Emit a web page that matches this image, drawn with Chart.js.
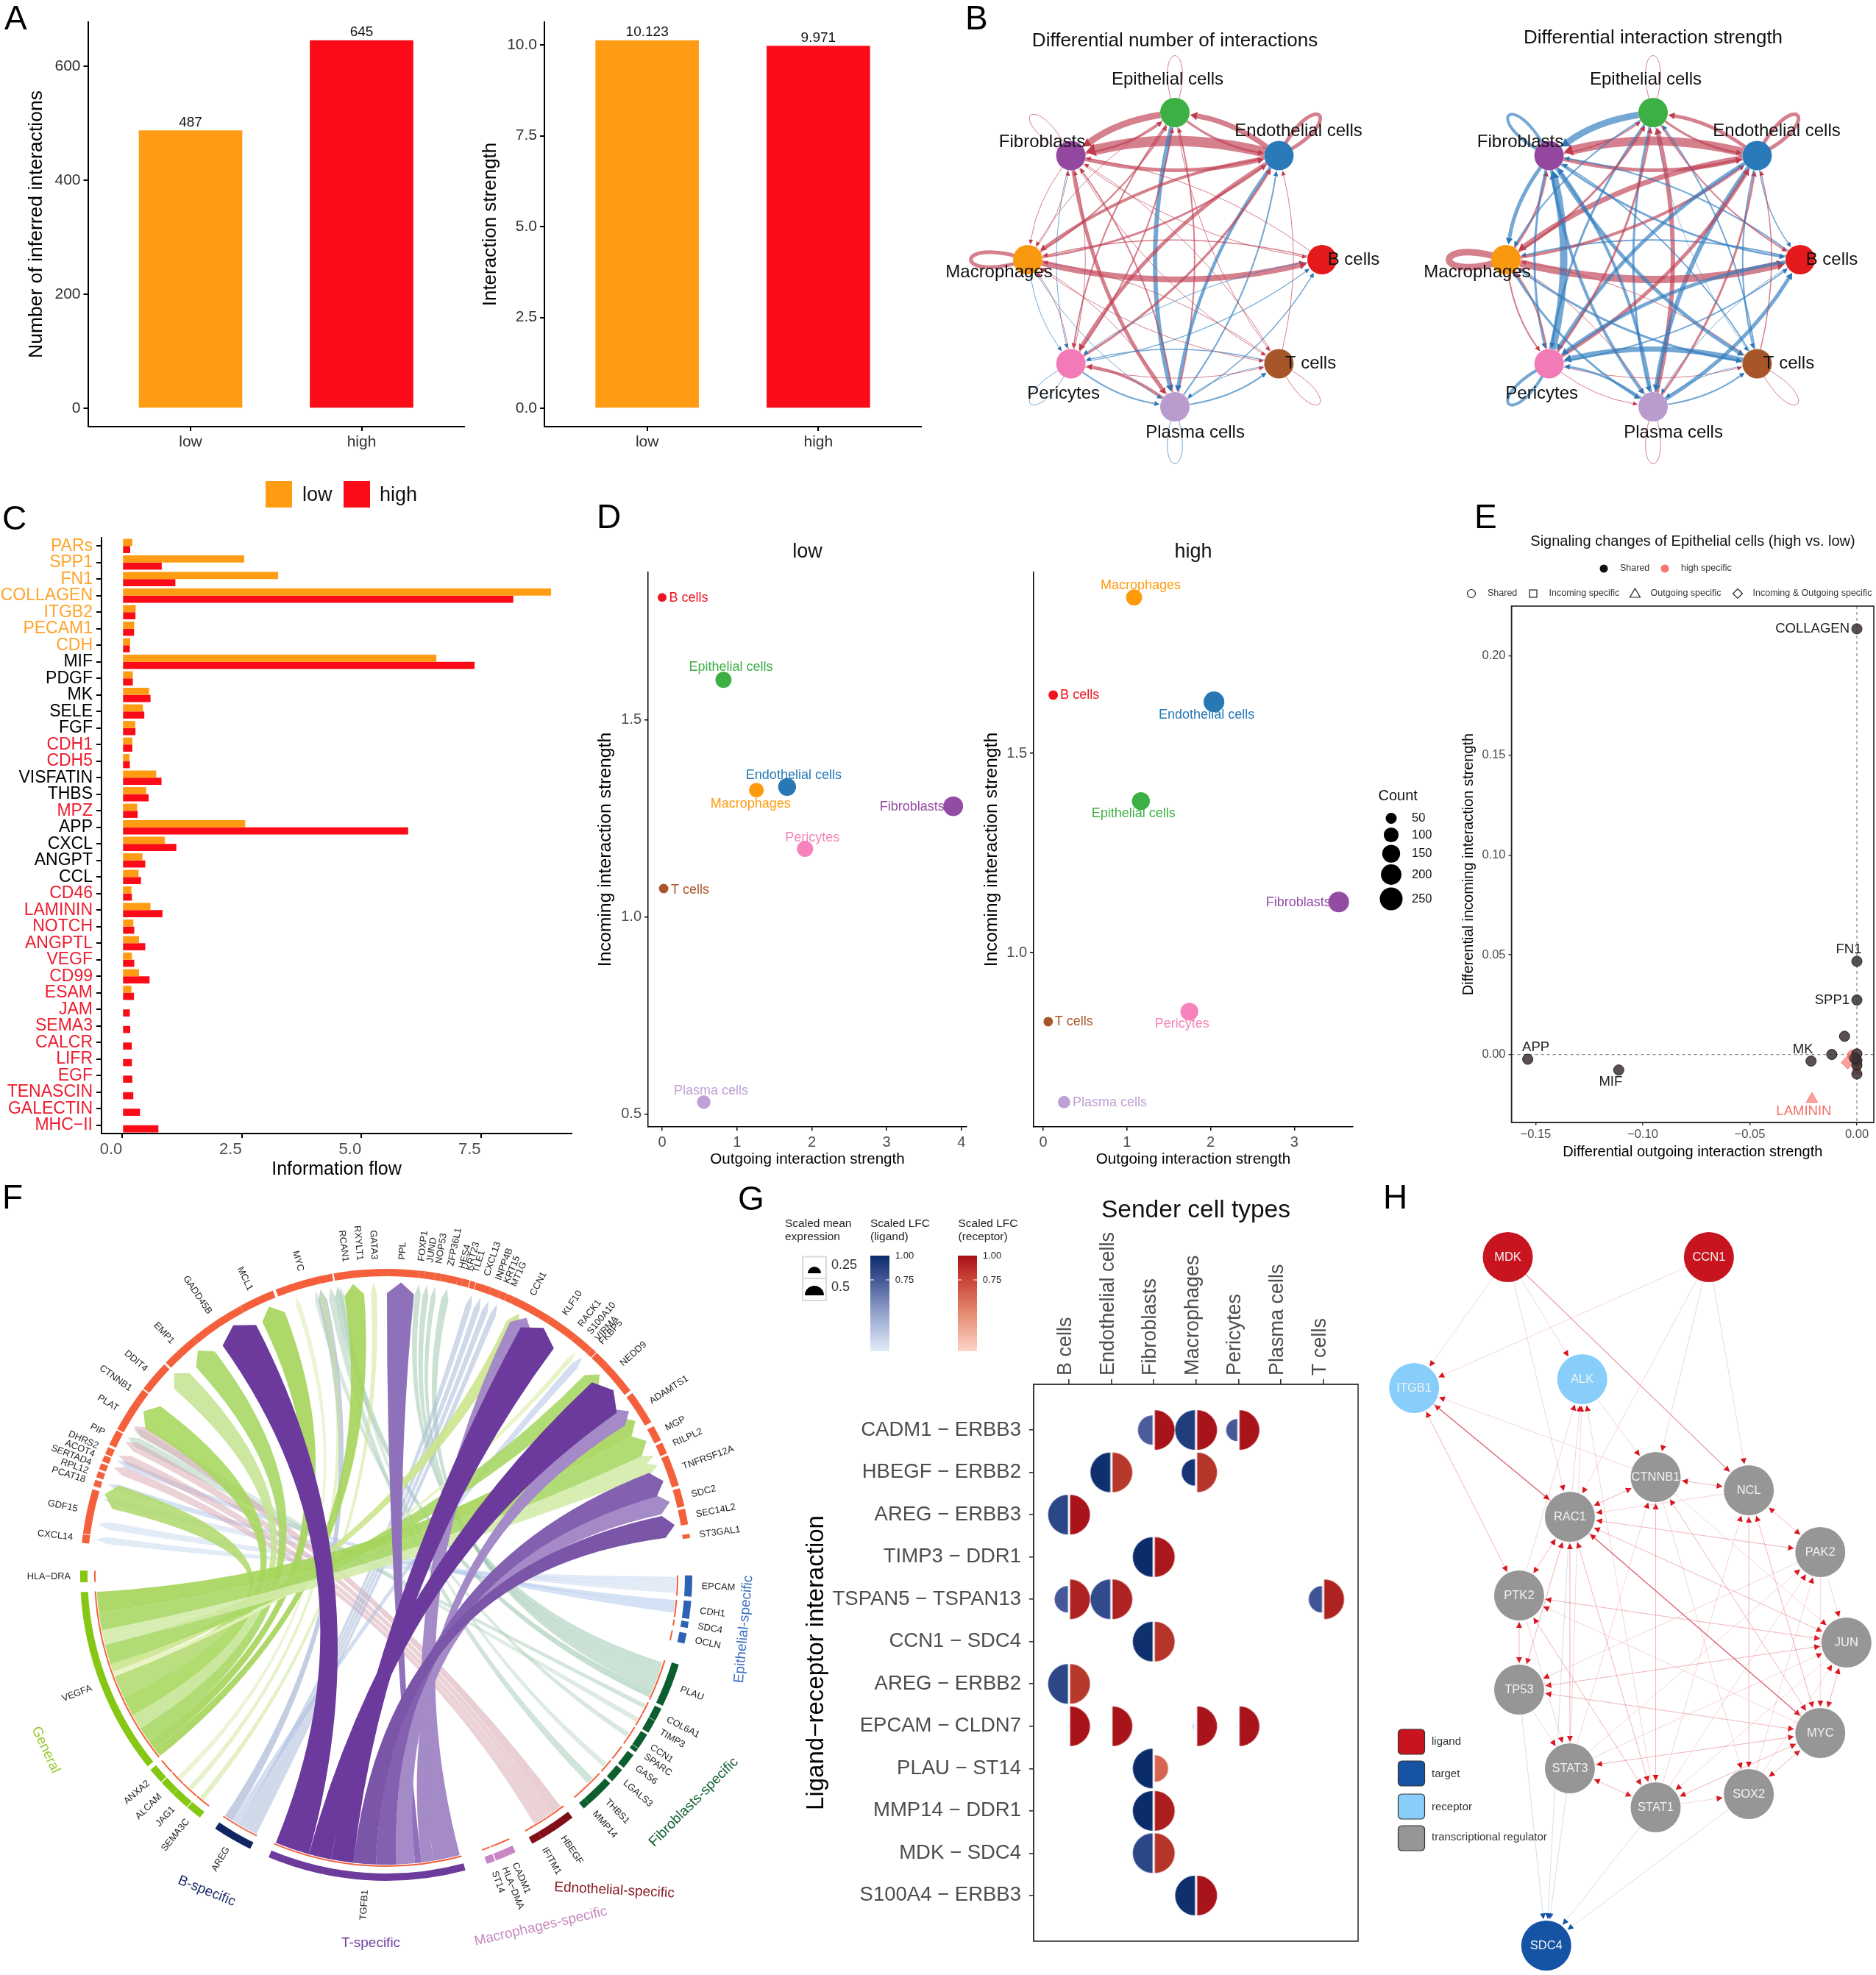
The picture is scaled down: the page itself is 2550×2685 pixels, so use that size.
<!DOCTYPE html>
<html><head><meta charset="utf-8">
<style>html,body{margin:0;padding:0;background:#fff;width:2550px;height:2685px;overflow:hidden;position:relative}canvas{position:absolute}</style>
<script src="https://cdn.jsdelivr.net/npm/chart.js@4/dist/chart.umd.js"></script>
</head><body>
<script>
// ---------- DATA ----------
const groups=['low','high'];
const interactionCount=[487,645];
const interactionStrength=[10.123,9.971];

const pathways=['PARs','SPP1','FN1','COLLAGEN','ITGB2','PECAM1','CDH','MIF','PDGF','MK','SELE','FGF','CDH1','CDH5','VISFATIN','THBS','MPZ','APP','CXCL','ANGPT','CCL','CD46','LAMININ','NOTCH','ANGPTL','VEGF','CD99','ESAM','JAM','SEMA3','CALCR','LIFR','EGF','TENASCIN','GALECTIN','MHC\u2212II'];
const flowLow=[.21,2.55,3.26,8.97,.28,.25,.165,6.57,.22,.56,.43,.27,.21,.15,.71,.5,.31,2.57,.89,.42,.34,.19,.59,.23,.35,.2,.35,.19,0,0,0,0,0,0,0,0];
const flowHigh=[.165,.825,1.11,8.18,.275,.245,.157,7.37,.22,.59,.46,.275,.21,.157,.82,.55,.32,5.98,1.13,.48,.39,.2,.84,.25,.48,.25,.57,.245,.157,.165,.197,.2,.21,.23,.37,.755];
const pathwayColor=['o','o','o','o','o','o','o','k','k','k','k','k','r','r','k','k','r','k','k','k','k','r','r','r','r','r','r','r','r','r','r','r','r','r','r','r'];

const bNames=['Epithelial cells','Endothelial cells','B cells','T cells','Plasma cells','Pericytes','Macrophages','Fibroblasts'];
const bX=[0,.707,1,.707,0,-.707,-1,-.707];
const bY=[1,.707,0,-.707,-1,-.707,0,.707];
const bColors=['#3cb044','#2a79b9','#e41a1c','#a65628','#b99bcd','#f27ab7','#f8990f','#93479e'];
const edgesNumber=[[1,7,14,'r'],[7,1,5,'r'],[0,7,9,'r'],[7,0,3,'r'],[1,0,7,'r'],[0,1,3,'r'],[0,4,6,'b'],[4,0,2,'r'],[1,4,4.5,'b'],[4,1,2,'b'],[6,2,8,'r'],[2,6,1.5,'r'],[1,6,4,'r'],[6,1,3,'r'],[1,5,5,'r'],[5,1,3,'r'],[7,4,5,'r'],[4,7,2,'r'],[4,5,4,'r'],[5,4,2,'b'],[4,3,2,'b'],[3,4,1,'b'],[3,5,1.5,'b'],[5,3,1,'r'],[5,0,2,'r'],[0,5,2,'r'],[6,0,2,'r'],[0,6,1,'r'],[7,5,1,'b'],[5,7,1,'r'],[7,6,1,'r'],[6,7,1,'r'],[6,5,1,'b'],[5,6,1,'r'],[7,2,1,'r'],[2,7,1,'r'],[7,3,1,'r'],[3,7,1,'r'],[6,3,1,'r'],[3,6,1,'r'],[6,4,1,'b'],[4,6,1,'r'],[5,2,1.2,'b'],[2,5,1,'b'],[4,2,1.5,'b'],[3,1,1,'r'],[0,3,1,'r']];
const edgesStrength=[[1,7,12,'r'],[7,1,5,'r'],[0,7,9,'b'],[7,0,2,'r'],[1,0,5,'r'],[0,1,3,'r'],[0,4,3,'b'],[4,0,6,'r'],[1,4,6,'b'],[4,1,3,'r'],[6,2,10,'r'],[2,6,2,'b'],[1,6,7,'r'],[6,1,4,'r'],[7,6,5,'b'],[6,7,3,'r'],[5,7,10,'b'],[7,5,3,'b'],[7,4,4,'b'],[4,7,4,'b'],[7,3,5,'b'],[3,7,2,'b'],[7,2,3,'b'],[2,7,2,'b'],[5,3,1,'r'],[3,5,7,'b'],[1,5,5,'b'],[5,1,5,'r'],[5,0,3,'r'],[0,5,3,'b'],[5,2,2,'b'],[2,5,5,'b'],[4,2,5,'b'],[2,4,1,'b'],[4,3,2,'b'],[3,4,1,'b'],[5,4,1,'r'],[4,5,3,'b'],[6,5,2,'r'],[5,6,2,'r'],[6,4,3,'b'],[4,6,1,'r'],[6,3,3,'b'],[3,6,1,'r'],[0,6,2,'b'],[6,0,3,'r'],[0,3,.7,'b'],[3,0,2,'b'],[0,2,2,'r'],[1,2,1.5,'b'],[1,3,2,'b'],[3,1,1.5,'r']];
const loopsNumber=[[0,1,'r'],[1,5,'r'],[6,5,'r'],[7,1,'r'],[5,1,'b'],[3,1,'r'],[4,1,'b']];
const loopsStrength=[[0,1,'r'],[1,5,'r'],[6,9,'r'],[7,4,'b'],[5,4,'b'],[3,1,'r'],[4,1,'r']];

const dCells=['B cells','Epithelial cells','Endothelial cells','Macrophages','Fibroblasts','Pericytes','T cells','Plasma cells'];
const dColors=['#ee1520','#3cb044','#2778b5','#ff9a0d','#944ba4','#f683bb','#a65628','#bfa0d6'];
const lowOutgoing=[0,.82,1.67,1.26,3.89,1.91,.02,.556];
const lowIncoming=[1.811,1.602,1.33,1.322,1.281,1.173,1.072,.53];
const lowCount=[28,120,150,98,185,120,35,80];
const highOutgoing=[.12,1.167,2.04,1.086,3.53,1.746,.06,.25];
const highIncoming=[1.646,1.38,1.629,1.891,1.127,.852,.827,.625];
const highCount=[35,150,205,120,205,150,35,65];
const countLegend=[50,100,150,200,250];

const eNamedX=[0,0,0,-.1537,-.1112,-.0214];
const eNamedY=[.2134,.0467,.0273,-.0024,-.0078,-.0033];
const eNamed=['COLLAGEN','FN1','SPP1','APP','MIF','MK'];
const eOtherX=[-.00575,-.0117,0,0,0,-.001,0];
const eOtherY=[.0091,0,.0003,-.003,-.0055,-.002,-.0098];
const eRedCircleX=[-.002,-.0015,0];
const eRedCircleY=[-.0003,-.001,-.003];
const eRedSquareX=[0,0];
const eRedSquareY=[-.006,-.008];
const eRedDiamondX=[-.0043];
const eRedDiamondY=[-.004];
const eRedTriangleX=[-.021];
const eRedTriangleY=[-.0224];

const fGenes=['CXCL14','GDF15','PCAT18','RPL12','SERTAD4','ACOT4','DHRS2','PIP','PLAT','CTNNB1','DDIT4','EMP1','GADD45B','MCL1','MYC','RCAN1','RXYLT1','GATA3','PPL','FOXP1','JUND','NOP53','ZFP36L1','HES4','KRT23','TLE1','CXCL13','INPP4B','KRT15','MT1G','CCN1','KLF10','RACK1','S100A10','VIRMA','FKBP5','NEDD9','ADAMTS1','MGP','RILPL2','TNFRSF12A','SDC2','SEC14L2','ST3GAL1','EPCAM','CDH1','SDC4','OCLN','PLAU','COL6A1','TIMP3','CCN1','SPARC','GAS6','LGALS3','THBS1','MMP14','HBEGF','IFITM1','CADM1','HLA\u2212DMA','ST14','TGFB1','AREG','SEMA3C','JAG1','ALCAM','ANXA2','VEGFA','HLA\u2212DRA'];
const fCenter=[-83.2,-78,-72.5,-70.8,-69.2,-67.6,-66,-63.3,-58.3,-54,-49.5,-42.6,-34,-25.5,-15.7,-7.4,-4.8,-2.2,2.9,6.4,8,9.6,11.8,13.9,15.2,16.5,18.6,20.8,22.4,23.8,27.6,34.4,37.9,40,41.8,42.8,48.2,56.8,62.4,65.5,70,75.3,79,82.7,92.1,96.6,99.4,102,111.2,117.2,119.8,123,125,127.6,131,135.7,138.8,146,150,156,158,160,183.8,210.2,219,222.4,225.7,228.9,249,269.7];
const fWidth=[1.6,8.5,1.2,1.2,1.2,1.2,1.4,3,6.5,2.5,6,7,11,7.5,11,5,1,5.5,6.5,1.8,2.5,1.5,3.5,1.3,1.3,1,3,2.2,1.6,1.5,10,8,1,3.4,1,1,9.5,6.5,3,2.2,6,3.5,3,.8,4,3.4,1.2,2,8.3,2.5,2.5,3,.8,3,2.8,5.5,2,7,3,2,2,1.6,37.6,7.6,3,3.5,3,3,35.5,2.2];
const fGroup=[0,0,0,0,0,0,0,0,0,0,0,0,0,0,0,0,0,0,0,0,0,0,0,0,0,0,0,0,0,0,0,0,0,0,0,0,0,0,0,0,0,0,0,0,1,1,1,1,2,2,2,2,2,2,2,2,2,3,3,4,4,4,5,6,7,7,7,7,7,7];
const fGroupColors=['#f4603c','#2e62b4','#0d5e2e','#7f1017','#c884c4','#6c3b9c','#0f2460','#86c714'];
// source start, source end, target angle, target width, colour
const fRibbonsPale=[
[90.4,91.4,-83,1.4,'rgba(200,216,240,.55)'],[91.4,92.4,-80,1.6,'rgba(200,216,240,.5)'],[92.4,93.6,-75,1.6,'rgba(200,216,240,.5)'],[95,96,-72,1.3,'rgba(185,205,236,.6)'],[96,97.5,-67,1.3,'rgba(185,205,236,.6)'],
[107.6,109.4,6.4,1.2,'rgba(150,195,170,.5)'],[109.4,110.8,8,1.2,'rgba(150,195,170,.5)'],[110.8,112,9.6,1,'rgba(150,195,170,.5)'],[112,113.5,12,1.5,'rgba(150,195,170,.5)'],[113.5,115,-9.6,1.6,'rgba(150,195,170,.55)'],[116.5,117.4,-62,2,'rgba(170,205,185,.5)'],
[119.5,120.5,-60,1.5,'rgba(170,205,185,.4)'],[123,124,-14,1.2,'rgba(170,205,185,.45)'],[130.5,131.5,-9,1.2,'rgba(170,205,185,.4)'],[134.5,136,-11,1.5,'rgba(170,205,185,.55)'],
[143,145,-59.5,2.2,'rgba(215,165,175,.55)'],[145,146.5,-63,2,'rgba(215,165,175,.5)'],[146.5,148,-66,2,'rgba(215,165,175,.5)'],[148,149.3,-68.5,1.8,'rgba(215,165,175,.5)'],
[206.6,207.6,22.3,1.2,'rgba(170,185,215,.55)'],[207.6,208.6,20.5,1.2,'rgba(170,185,215,.55)'],[208.6,209.6,18.8,1.2,'rgba(170,185,215,.55)'],[209.6,210.6,17,1.2,'rgba(170,185,215,.55)'],[210.6,212,42,1.5,'rgba(170,190,225,.5)'],[212,213.8,-13,1.8,'rgba(170,185,215,.7)'],
[219,220,-2.5,1.2,'rgba(205,230,150,.55)'],[222,223,-13,1.3,'rgba(205,230,150,.5)'],[225,226,-18,1,'rgba(205,230,150,.4)']];
const fRibbonsGreen=[
[233,235,-23.6,5,'rgba(165,213,90,.9)'],[231.3,233,-6.5,4,'rgba(165,213,90,.9)'],[235,238,-40,5,'rgba(169,216,102,.9)'],[238,241,-46.5,4.5,'rgba(197,228,150,.9)'],[241,245,-56,5.5,'rgba(168,216,96,.9)'],[245,249.5,-74,5,'rgba(179,218,114,.9)'],
[249.5,250.5,40.4,1,'rgba(230,243,192,.9)'],[250.5,252,26.9,3,'rgba(203,230,140,.9)'],[252,256,46.8,4,'rgba(169,216,102,.9)'],[256,257.5,68,2.5,'rgba(211,235,170,.9)'],[257.5,259,66,2,'rgba(211,235,170,.9)'],[259,262.5,62.8,4.5,'rgba(169,216,102,.9)'],[262.5,266.6,58.3,4.5,'rgba(165,213,90,.9)']];
const fRibbonsPurple=[
[165.3,170.6,28.6,5,'#a58ac8'],[170.6,173,56,4,'#a58ac8'],[173,174.3,2.9,5.5,'#8f70ba'],[174.3,178,75.6,4,'#a58ac8'],[178,182,71.3,5,'#8360b0'],[182,186.5,80.2,4.5,'#7a55a8'],[186.5,191,32.5,8,'#6b3a9c'],[191,195.5,50.9,8,'#6b3a9c'],[195.5,202.4,-31.5,8,'#6b3a9c']];

const gLigands=['CADM1 \u2212 ERBB3','HBEGF \u2212 ERBB2','AREG \u2212 ERBB3','TIMP3 \u2212 DDR1','TSPAN5 \u2212 TSPAN13','CCN1 \u2212 SDC4','AREG \u2212 ERBB2','EPCAM \u2212 CLDN7','PLAU \u2212 ST14','MMP14 \u2212 DDR1','MDK \u2212 SDC4','S100A4 \u2212 ERBB3'];
const gSenders=['B cells','Endothelial cells','Fibroblasts','Macrophages','Pericytes','Plasma cells','T cells'];
const gRow=[0,0,0,1,1,2,3,4,4,4,5,6,7,7,7,7,8,9,10,11];
const gCol=[2,3,4,1,3,0,2,0,1,6,2,0,0,1,3,4,2,2,2,3];
const gLigSize=[.74,1,.56,1,.67,1,1,.67,1,.67,1,1,.08,0,.15,.08,1,1,1,1];
const gLigVal=[.7,.9,.72,.98,.95,.85,1,.72,.82,.75,.98,.85,.3,.3,.3,.3,1,1,.85,.98];
const gRecSize=[1,1,1,1,1,1,1,1,1,1,1,1,1,1,1,1,.67,1,1,1];
const gRecVal=[.97,.97,.97,.8,.82,.97,.95,.9,.9,.9,.82,.8,.97,.97,.97,.97,.65,.93,.82,.97];

const hNames=['MDK','CCN1','ITGB1','ALK','CTNNB1','NCL','RAC1','PAK2','PTK2','JUN','TP53','MYC','STAT3','SOX2','STAT1','SDC4'];
const hX=[25.3,66.1,6.3,40.4,55.3,74.2,37.9,88.7,27.6,94,27.6,88.7,37.9,74.2,55.3,33.1];
const hY=[97.1,97.1,79.3,80.5,67.2,65.4,61.8,57,51.1,44.7,38.3,32.4,27.6,24.1,22.3,3.5];
const hKind=['ligand','ligand','receptor','receptor','tf','tf','tf','tf','tf','tf','tf','tf','tf','tf','tf','target'];
const hEdges=['MDK>ITGB1','MDK>ALK','MDK>RAC1','CCN1>ITGB1','CCN1>RAC1','CCN1>CTNNB1','CCN1>NCL','PTK2>ITGB1','ITGB1>PTK2','CTNNB1>ITGB1','RAC1>ALK','PTK2>ALK','STAT1>ALK','STAT3>ALK','ALK>CTNNB1','RAC1>CTNNB1','CTNNB1>RAC1','CTNNB1>NCL','NCL>CTNNB1','NCL>RAC1','RAC1>PAK2','PAK2>RAC1','RAC1>JUN','JUN>RAC1','RAC1>STAT1','STAT1>RAC1','RAC1>STAT3','STAT3>RAC1','RAC1>PTK2','PTK2>RAC1','RAC1>TP53','TP53>RAC1','PTK2>TP53','TP53>PTK2','PTK2>STAT3','PTK2>JUN','JUN>PTK2','MYC>PTK2','PTK2>STAT1','STAT1>PTK2','TP53>STAT3','TP53>MYC','MYC>TP53','JUN>TP53','TP53>JUN','PAK2>TP53','STAT3>STAT1','STAT1>STAT3','STAT3>MYC','MYC>STAT3','STAT3>JUN','STAT3>CTNNB1','STAT3>PAK2','STAT1>SOX2','STAT1>PAK2','STAT1>NCL','STAT1>CTNNB1','CTNNB1>STAT1','STAT1>MYC','MYC>STAT1','JUN>STAT1','SOX2>MYC','MYC>SOX2','SOX2>PAK2','SOX2>NCL','NCL>SOX2','CTNNB1>SOX2','SOX2>JUN','NCL>MYC','MYC>NCL','PAK2>NCL','NCL>PAK2','PAK2>JUN','PAK2>MYC','JUN>MYC','MYC>JUN','CTNNB1>MYC','MYC>CTNNB1','CTNNB1>JUN'];
const hBoldEdges=['MDK>NCL','RAC1>ITGB1','ITGB1>RAC1','RAC1>MYC','MYC>RAC1'];
const hTargetEdges=['TP53>SDC4','STAT3>SDC4','RAC1>SDC4','STAT1>SDC4','SOX2>SDC4'];

// ---------- HELPERS ----------
Chart.defaults.font.family="'Liberation Sans',Arial,sans-serif";
Chart.defaults.animation=false;
Chart.defaults.responsive=false;
Chart.defaults.devicePixelRatio=1;
Chart.defaults.layout.autoPadding=false;
Chart.defaults.plugins.legend.display=false;
Chart.defaults.plugins.tooltip.enabled=false;
const FONT="'Liberation Sans',Arial,sans-serif";
function place(r){const c=document.createElement('canvas');c.width=r[2]-r[0];c.height=r[3]-r[1];c.style.left=r[0]+'px';c.style.top=r[1]+'px';document.body.appendChild(c);return c;}
function axis(o,side,size,edge){
  const horiz=side==='bottom'||side==='top';
  const lh=(o.titleSize||0)*1.2;
  const lc=o.line||'#000',lw=o.lineW??2;
  const tk={display:true,autoSkip:false,font:{size:o.tick},color:o.tickColor||'#303030',padding:o.pad??4,maxRotation:o.rot||0,minRotation:o.rot||0,align:o.align||'center',labelOffset:o.labelOffset||0};
  if(o.fmt)tk.callback=o.fmt;
  if(o.tickColorFn)tk.color=o.tickColorFn;
  return {type:o.type||'linear',position:side,min:o.min,max:o.max,reverse:!!o.reverse,bounds:'data',offset:!!o.offset,
    border:{display:true,color:lc,width:lw},
    grid:{display:true,offset:false,drawOnChartArea:false,drawTicks:true,tickLength:o.tickLen??6,color:lc,lineWidth:lw},
    ticks:tk,
    title:o.title?{display:true,text:o.title,color:o.titleColor||'#000',font:{size:o.titleSize},padding:horiz?{top:0,bottom:edge-o.titleAt-lh/2}:{top:o.titleAt-edge-lh/2,bottom:0}}:{display:false},
    afterBuildTicks:o.ticksAt?s=>{s.ticks=o.ticksAt.map(v=>({value:v}));}:undefined,
    afterFit:s=>{if(horiz)s.height=size;else s.width=size;s.paddingLeft=s.paddingRight=s.paddingTop=s.paddingBottom=0;}
  };
}
function plotChart(cR,pR,type,data,xo,yo,extra){
  extra=extra||{};
  const top=xo.side==='top';
  const opts={layout:{padding:{left:0,top:top?0:pR[1]-cR[1],right:cR[2]-pR[2],bottom:top?cR[3]-pR[3]:0}},
    scales:{x:axis(xo,xo.side||'bottom',top?pR[1]-cR[1]:cR[3]-pR[3],cR[3]),y:axis(yo,'left',pR[0]-cR[0],cR[0])}};
  if(extra.indexAxis)opts.indexAxis=extra.indexAxis;
  return new Chart(place(cR),{type,data,options:opts,plugins:extra.plugins||[]});
}
function txt(c,s,x,y,size,color,align,rot,base){c.save();c.translate(x,y);if(rot)c.rotate(rot*Math.PI/180);c.font=size+'px '+FONT;c.fillStyle=color||'#000';c.textAlign=align||'center';c.textBaseline=base||'middle';c.fillText(s,0,0);c.restore();}
const hexRgb=h=>[1,3,5].map(i=>parseInt(h.slice(i,i+2),16));
function ramp(stops,v){if(v<=stops[0][0])return stops[0][1];for(let i=1;i<stops.length;i++){if(v<=stops[i][0]){const t=(v-stops[i-1][0])/(stops[i][0]-stops[i-1][0]);const a=hexRgb(stops[i-1][1]),b=hexRgb(stops[i][1]);return 'rgb('+a.map((q,k)=>Math.round(q+(b[k]-q)*t)).join(',')+')';}}return stops[stops.length-1][1];}

// ---------- PANEL A ----------
const valueLabel={id:'valueLabel',afterDatasetsDraw(ch){const m=ch.getDatasetMeta(0);m.data.forEach((b,i)=>{txt(ch.ctx,ch.data.datasets[0].rawLabels[i],b.x,b.y-11,19,'#111');});}};
function barsA(cR,pR,values,labels,yo){
  plotChart(cR,pR,'bar',{datasets:[{data:values.map((v,i)=>({x:i+1,y:v})),rawLabels:labels,backgroundColor:['#ff9c14','#fa0b17'],barThickness:140,borderWidth:0}]},
   {min:.4,max:2.6,ticksAt:[1,2],fmt:v=>groups[v-1],tick:21,pad:3},yo,{plugins:[valueLabel]});
}
barsA([0,0,640,640],[119.5,30,631,580],interactionCount,['487','645'],{min:-32.3,max:677.4,ticksAt:[0,200,400,600],tick:21,title:'Number of inferred interactions',titleSize:26.5,titleAt:50});
barsA([640,0,1260,640],[740,30,1252,580],interactionStrength,['10.123','9.971'],{min:-.506,max:10.63,ticksAt:[0,2.5,5,7.5,10],fmt:v=>v.toFixed(1),tick:21,title:'Interaction strength',titleSize:26,titleAt:667});

// ---------- PANEL B ----------
const RED='rgba(192,62,82,.66)',REDH='#c23a4e',BLUE='rgba(50,125,190,.68)',BLUEH='#2d75b4';
function netPlugin(edges,loops){return {id:'net',beforeDatasetsDraw(ch){
  const c=ch.ctx,sx=ch.scales.x,sy=ch.scales.y,R=20;
  const P=i=>[sx.getPixelForValue(bX[i]),sy.getPixelForValue(bY[i])];
  const cx=sx.getPixelForValue(0),cy=sy.getPixelForValue(0);
  loops.forEach(([n,w,col])=>{const p=P(n);let dx=p[0]-cx,dy=p[1]-cy,d=Math.hypot(dx,dy);dx/=d;dy/=d;const L=84*1.3,th=19*Math.PI/180;
    const r=(a)=>[p[0]+L*(dx*Math.cos(a)-dy*Math.sin(a)),p[1]+L*(dx*Math.sin(a)+dy*Math.cos(a))];
    const a=r(th),b=r(-th);c.beginPath();c.moveTo(p[0],p[1]);c.bezierCurveTo(a[0],a[1],b[0],b[1],p[0],p[1]);c.strokeStyle=col==='r'?RED:BLUE;c.lineWidth=w;c.stroke();});
  edges.forEach(([f,t,w,col])=>{const a=P(f),b=P(t),dx=b[0]-a[0],dy=b[1]-a[1],k=.12;
    const q=[(a[0]+b[0])/2-dy*k,(a[1]+b[1])/2+dx*k];
    let ux=b[0]-q[0],uy=b[1]-q[1],ul=Math.hypot(ux,uy);ux/=ul;uy/=ul;
    let vx=q[0]-a[0],vy=q[1]-a[1],vl=Math.hypot(vx,vy);vx/=vl;vy/=vl;
    const tip=[b[0]-ux*(R+1),b[1]-uy*(R+1)],al=6+w*.5,ah=2.5+w*.45,base=[tip[0]-ux*al,tip[1]-uy*al];
    c.beginPath();c.moveTo(a[0]+vx*R,a[1]+vy*R);c.quadraticCurveTo(q[0],q[1],base[0],base[1]);c.strokeStyle=col==='r'?RED:BLUE;c.lineWidth=w;c.stroke();
    c.beginPath();c.moveTo(tip[0],tip[1]);c.lineTo(base[0]-uy*ah,base[1]+ux*ah);c.lineTo(base[0]+uy*ah,base[1]-ux*ah);c.closePath();c.fillStyle=col==='r'?REDH:BLUEH;c.fill();});
}};}
function network(cR,edges,loops){
  return new Chart(place(cR),{type:'scatter',data:{datasets:[{data:bX.map((x,i)=>({x,y:bY[i]})),backgroundColor:bColors,pointRadius:20,borderWidth:0,clip:false}]},
    options:{scales:{x:{display:false,min:-1.6,max:1.6},y:{display:false,min:-1.6,max:1.6}}},plugins:[netPlugin(edges,loops)]});
}
network([1597-320,353-320,1597+320,353+320],edgesNumber,loopsNumber);
network([2247-320,353-320,2247+320,353+320],edgesStrength,loopsStrength);

// ---------- PANEL C ----------
const colMap={o:'#ffa32a',k:'#000',r:'#ee1c2e'};
plotChart([0,720,800,1610],[138,731,777,1541],'bar',{labels:pathways,datasets:[
  {label:'low',data:flowLow,backgroundColor:'#ff9c14',barPercentage:1,categoryPercentage:.86},
  {label:'high',data:flowHigh,backgroundColor:'#fa0b17',barPercentage:1,categoryPercentage:.86}]},
  {min:-.435,max:9.4,ticksAt:[0,2.5,5,7.5],fmt:v=>v.toFixed(1),tick:22,tickColor:'#4d4d4d',align:'end',title:'Information flow',titleSize:25,titleAt:1590,pad:3},
  {type:'category',offset:true,reverse:false,tick:23,tickLen:7,pad:5,tickColorFn:c=>colMap[pathwayColor[c.index]]},{indexAxis:'y'});

// ---------- PANEL D ----------
const countR=c=>Math.sqrt(Math.max(16,56+(c-50)*.92));
function pointLabels(dx,dy){return {id:'pl',afterDatasetsDraw(ch){ch.getDatasetMeta(0).data.forEach((p,i)=>txt(ch.ctx,dCells[i],p.x+dx[i],p.y+dy[i],18,dColors[i]));}};}
plotChart([800,770,1330,1600],[881,778,1314,1532],'bubble',{datasets:[{data:lowOutgoing.map((x,i)=>({x,y:lowIncoming[i],r:countR(lowCount[i])})),backgroundColor:dColors,borderWidth:0,clip:false}]},
 {min:-.187,max:4.07,ticksAt:[0,1,2,3,4],tick:20,tickColor:'#4d4d4d',lineW:1.5,tickLen:5,title:'Outgoing interaction strength',titleSize:20.6,titleAt:1576},
 {min:.467,max:1.875,ticksAt:[.5,1,1.5],fmt:v=>v.toFixed(1),tick:20,tickColor:'#4d4d4d',lineW:1.5,tickLen:5,title:'Incoming interaction strength',titleSize:24.8,titleAt:823},
 {plugins:[pointLabels([36,10,9,-8,-56,10,36,10],[1,-17,-16,19,1,-15,2,-15])]});
plotChart([1330,770,1860,1600],[1405,778,1839,1532],'bubble',{datasets:[{data:highOutgoing.map((x,i)=>({x,y:highIncoming[i],r:countR(highCount[i])})),backgroundColor:dColors,borderWidth:0,clip:false}]},
 {min:-.114,max:3.70,ticksAt:[0,1,2,3],tick:20,tickColor:'#4d4d4d',lineW:1.5,tickLen:5,title:'Outgoing interaction strength',titleSize:20.6,titleAt:1576},
 {min:.563,max:1.954,ticksAt:[1,1.5],fmt:v=>v.toFixed(1),tick:20,tickColor:'#4d4d4d',lineW:1.5,tickLen:5,title:'Incoming interaction strength',titleSize:24.8,titleAt:1348},
 {plugins:[pointLabels([36,-10,-10,9,-55,-10,35,62],[0,17,18,-16,1,17,0,1])]});
new Chart(place([1860,1095,1970,1245]),{type:'bubble',data:{datasets:[{data:countLegend.map((c,i)=>({x:31,y:[17.5,40,65.6,94,127][i],r:countR(c)})),backgroundColor:'#000',borderWidth:0,clip:false}]},
 options:{scales:{x:{display:false,min:0,max:110},y:{display:false,reverse:true,min:0,max:150}}},
 plugins:[{id:'cl',afterDatasetsDraw(ch){ch.getDatasetMeta(0).data.forEach((p,i)=>txt(ch.ctx,String(countLegend[i]),p.x+28,p.y,16.5,'#111','left'));}}]});

// ---------- PANEL E ----------
const pts=(xs,ys)=>xs.map((x,i)=>({x,y:ys[i]}));
const eFrame={id:'eFrame',beforeDatasetsDraw(ch){const c=ch.ctx,a=ch.chartArea,sx=ch.scales.x,sy=ch.scales.y;c.save();c.setLineDash([4,4]);c.strokeStyle='#8c8c8c';c.lineWidth=1.3;
  c.beginPath();c.moveTo(sx.getPixelForValue(0),a.top);c.lineTo(sx.getPixelForValue(0),a.bottom);c.moveTo(a.left,sy.getPixelForValue(0));c.lineTo(a.right,sy.getPixelForValue(0));c.stroke();c.restore();},
  afterDatasetsDraw(ch){const c=ch.ctx,a=ch.chartArea;c.strokeStyle='#222';c.lineWidth=1.6;c.strokeRect(a.left,a.top,a.right-a.left,a.bottom-a.top);
  const m=ch.getDatasetMeta(0).data;const lab=[[-10,0,'right'],[-11,-16,'center'],[-10,0,'right'],[11,-16,'center'],[-11,16,'center'],[-11,-16,'center']];
  eNamed.forEach((n,i)=>{const p=m[i];const o=lab[i];txt(c,n,p.x+o[0],p.y+o[1],18.5,'#222',o[2]);});
  const t=ch.getDatasetMeta(5).data[0];txt(c,'LAMININ',t.x-11,t.y+17,18.5,'#f4706a');}};
const GREY='rgba(60,50,50,.85)',SAL='rgba(248,110,105,.65)',SALB='rgba(240,90,90,.7)';
plotChart([1980,810,2550,1600],[2054.5,824,2547,1526],'scatter',{datasets:[
  {data:pts(eNamedX,eNamedY),backgroundColor:GREY,borderColor:'#222',borderWidth:1,pointRadius:7,clip:false},
  {data:pts(eOtherX,eOtherY),backgroundColor:GREY,borderColor:'#222',borderWidth:1,pointRadius:7,clip:false},
  {data:pts(eRedCircleX,eRedCircleY),backgroundColor:SAL,borderColor:SALB,borderWidth:1,pointRadius:7},
  {data:pts(eRedSquareX,eRedSquareY),backgroundColor:SAL,borderColor:SALB,borderWidth:1,pointRadius:7,pointStyle:'rect'},
  {data:pts(eRedDiamondX,eRedDiamondY),backgroundColor:SAL,borderColor:SALB,borderWidth:1,pointRadius:9,pointStyle:'rectRot'},
  {data:pts(eRedTriangleX,eRedTriangleY),backgroundColor:SAL,borderColor:SALB,borderWidth:1,pointRadius:9,pointStyle:'triangle'}]},
 {min:-.1613,max:.0079,ticksAt:[-.15,-.1,-.05,0],fmt:v=>(v<0?'\u2212':'')+Math.abs(v).toFixed(2),tick:16.5,tickColor:'#4d4d4d',lineW:1.4,tickLen:4,line:'#333',pad:3,title:'Differential outgoing interaction strength',titleSize:20,titleAt:1566},
 {min:-.0341,max:.2248,ticksAt:[0,.05,.1,.15,.2],fmt:v=>v.toFixed(2),tick:16.5,tickColor:'#4d4d4d',lineW:1.4,tickLen:4,line:'#333',pad:4,title:'Differential incoming interaction strength',titleSize:20,titleAt:1996},
 {plugins:[eFrame]});

// ---------- PANEL F ----------
const fTrackData=[],fTrackCol=[],fInnerCol=[];
(function(){let pos=-84.2;fCenter.forEach((c,i)=>{const s=Math.max(pos,c-fWidth[i]/2),e=c+fWidth[i]/2;fTrackData.push(s-pos,e-s);fTrackCol.push('rgba(0,0,0,0)',fGroupColors[fGroup[i]]);fInnerCol.push('rgba(0,0,0,0)',fGroup[i]===0?'rgba(0,0,0,0)':'#f4603c');pos=e;});fTrackData.push(-84.2+360-pos);fTrackCol.push('rgba(0,0,0,0)');fInnerCol.push('rgba(0,0,0,0)');})();
const fRibbons={id:'rib',beforeDatasetsDraw(ch){
  const a=ch.chartArea,cx=(a.left+a.right)/2,cy=(a.top+a.bottom)/2,c=ch.ctx,rad=Math.PI/180;
  const P=(d,r)=>[cx+r*Math.sin(d*rad),cy-r*Math.cos(d*rad)];
  [...fRibbonsPale,...fRibbonsGreen,...fRibbonsPurple].forEach(([s1,s2,d,w,col])=>{
    const r0=394,rb=383,rt=398,p1=P(d-w/2,rb),t=P(d,rt),p2=P(d+w/2,rb),st=P(s1,r0);
    c.beginPath();c.moveTo(st[0],st[1]);c.arc(cx,cy,r0,(s1-90)*rad,(s2-90)*rad);c.quadraticCurveTo(cx,cy,p1[0],p1[1]);c.lineTo(t[0],t[1]);c.lineTo(p2[0],p2[1]);c.quadraticCurveTo(cx,cy,st[0],st[1]);c.closePath();c.fillStyle=col;c.fill();});
},afterDatasetsDraw(ch){
  const a=ch.chartArea,cx=(a.left+a.right)/2,cy=(a.top+a.bottom)/2,c=ch.ctx,rad=Math.PI/180,R=429;
  fGenes.forEach((g,i)=>{const d=fCenter[i],x=cx+R*Math.sin(d*rad),y=cy-R*Math.cos(d*rad);const right=d>=0&&d<180;txt(c,g,x,y,12.8,'#222',right?'left':'right',right?d-90:d+90);});
}};
new Chart(place([0,1600,1050,2685]),{type:'doughnut',data:{datasets:[
  {data:fTrackData,backgroundColor:fTrackCol,borderWidth:0,weight:10},
  {data:fTrackData,backgroundColor:'rgba(0,0,0,0)',borderWidth:0,weight:9},
  {data:fTrackData,backgroundColor:fInnerCol,borderWidth:0,weight:2}]},
  options:{rotation:-84.2,cutout:'94.95%',radius:416,layout:{padding:{left:109,right:109,top:125,bottom:128}}},plugins:[fRibbons]});

// ---------- PANEL G ----------
const blueRamp=[[.3,'#dfe6f5'],[.7,'#4b5b9c'],[.85,'#2b4788'],[1,'#0b2c6b']];
const redRamp=[[.5,'#fdd5c8'],[.65,'#d66450'],[.8,'#b7392c'],[.97,'#a81419'],[1,'#a50f15']];
function halfDisc(rad,col,left){const s=Math.ceil(rad)*2+8,cv=document.createElement('canvas');cv.width=cv.height=s;const c=cv.getContext('2d'),m=s/2;c.fillStyle=col;c.beginPath();
  if(left){c.arc(m-1.5,m,rad,Math.PI/2,Math.PI*1.5);}else{c.arc(m+1.5,m,rad,-Math.PI/2,Math.PI/2);}c.closePath();c.fill();return cv;}
const gPts=(sizes,vals,ramp0,left)=>gRow.map((r,i)=>({x:gCol[i],y:r,v:vals[i],s:sizes[i]})).filter(p=>p.s>0).map(p=>Object.assign(p,{img:halfDisc(27*p.s,ramp(ramp0,p.v),left)}));
plotChart([1040,1640,1860,2660],[1405,1882,1846,2639],'scatter',{datasets:[
  {data:gPts(gLigSize,gLigVal,blueRamp,true),pointStyle:c=>c.raw&&c.raw.img,pointRadius:10,borderWidth:0},
  {data:gPts(gRecSize,gRecVal,redRamp,false),pointStyle:c=>c.raw&&c.raw.img,pointRadius:10,borderWidth:0}]},
 {side:'top',min:-.835,max:6.826,ticksAt:[0,1,2,3,4,5,6],fmt:v=>gSenders[v],tick:27,tickColor:'#4d4d4d',rot:90,lineW:1.6,line:'#333',tickLen:7,pad:5,labelOffset:28},
 {min:-1.08,max:12.08,reverse:true,ticksAt:gLigands.map((_,i)=>i),fmt:v=>gLigands[v],tick:27.5,tickColor:'#4d4d4d',lineW:1.6,line:'#333',tickLen:6,pad:11,title:'Ligand\u2212receptor interaction',titleSize:33,titleAt:1110},
 {plugins:[{id:'gf',afterDatasetsDraw(ch){const c=ch.ctx,a=ch.chartArea;c.strokeStyle='#333';c.lineWidth=1.6;c.strokeRect(a.left,a.top,a.right-a.left,a.bottom-a.top);}}]});

// ---------- PANEL H ----------
const hKindCol={ligand:'#c8141e',receptor:'#87cefa',tf:'#969696',target:'#1553a5'};
const hIdx=n=>hNames.indexOf(n);
const hNet={id:'hNet',beforeDatasetsDraw(ch){
  const c=ch.ctx,sx=ch.scales.x,sy=ch.scales.y,R=34;
  const draw=(list,line,w,head)=>list.forEach(e=>{const [f,t]=e.split('>').map(hIdx);const a=[sx.getPixelForValue(hX[f]),sy.getPixelForValue(hY[f])],b=[sx.getPixelForValue(hX[t]),sy.getPixelForValue(hY[t])];
    let ux=b[0]-a[0],uy=b[1]-a[1];const l=Math.hypot(ux,uy);ux/=l;uy/=l;const tip=[b[0]-ux*(R+2),b[1]-uy*(R+2)],base=[tip[0]-ux*8,tip[1]-uy*8];
    c.beginPath();c.moveTo(a[0]+ux*R,a[1]+uy*R);c.lineTo(base[0],base[1]);c.strokeStyle=line;c.lineWidth=w;c.stroke();
    c.beginPath();c.moveTo(tip[0],tip[1]);c.lineTo(base[0]-uy*4,base[1]+ux*4);c.lineTo(base[0]+uy*4,base[1]-ux*4);c.closePath();c.fillStyle=head;c.fill();});
  draw(hEdges,'rgba(230,120,130,.32)',1,'#d8141e');
  draw(hBoldEdges,'rgba(215,80,95,.6)',1.3,'#d8141e');
  draw(hTargetEdges,'rgba(140,175,210,.4)',1,'#1553a5');
},afterDatasetsDraw(ch){ch.getDatasetMeta(0).data.forEach((p,i)=>txt(ch.ctx,hNames[i],p.x,p.y,16.5,'#f2f2f2'));}};
new Chart(place([1880,1640,2550,2680]),{type:'scatter',data:{datasets:[{data:pts(hX,hY),backgroundColor:hKind.map(k=>hKindCol[k]),pointRadius:34,borderWidth:0,clip:false}]},
  options:{scales:{x:{display:false,min:0,max:100},y:{display:false,min:0,max:104}}},plugins:[hNet]});

// ---------- TEXT & LEGENDS OVERLAY ----------
const overlay={id:'overlay',afterDraw(ch){const c=ch.ctx;
  [['A',6,40],['B',1312,40],['C',3,720],['D',811,718],['E',2004,718],['F',3,1643],['G',1003,1645],['H',1880,1643]].forEach(([s,x,y])=>txt(c,s,x,y,46,'#000','left',0,'alphabetic'));
  c.fillStyle='#ff9c14';c.fillRect(361,654,36,36);c.fillStyle='#fa0b17';c.fillRect(467,654,36,36);
  txt(c,'low',411,674,27,'#111','left');txt(c,'high',516,674,27,'#111','left');
  txt(c,'Differential number of interactions',1597,55.5,26,'#111');txt(c,'Differential interaction strength',2247,51.5,26,'#111');
  const bLab=[[1587,108.6],[1765,178],[1840,353.5],[1781.5,494.5],[1624.6,588],[1445.7,535],[1358,370],[1416.5,193]];
  bNames.forEach((n,i)=>{txt(c,n,bLab[i][0],bLab[i][1],24,'#111');txt(c,n,bLab[i][0]+650,bLab[i][1],24,'#111');});
  txt(c,'low',1097.6,751,27,'#111');txt(c,'high',1622,751,27,'#111');txt(c,'Count',1873.5,1082,20,'#111','left');
  txt(c,'Signaling changes of Epithelial cells (high vs. low)',2301,736,20,'#111');
  c.fillStyle='#111';c.beginPath();c.arc(2180,773,5.5,0,7);c.fill();c.fillStyle='#f8766d';c.beginPath();c.arc(2263,773,5.5,0,7);c.fill();
  txt(c,'Shared',2202,773,12.5,'#333','left');txt(c,'high specific',2285,773,12.5,'#333','left');
  c.strokeStyle='#222';c.lineWidth=1.2;c.beginPath();c.arc(2000,807,5.5,0,7);c.stroke();c.strokeRect(2079,802,10,10);
  c.beginPath();c.moveTo(2222.5,800);c.lineTo(2229.5,812);c.lineTo(2215.5,812);c.closePath();c.stroke();
  c.beginPath();c.moveTo(2362,800.5);c.lineTo(2368.5,807);c.lineTo(2362,813.5);c.lineTo(2355.5,807);c.closePath();c.stroke();
  txt(c,'Shared',2022,807,12.5,'#333','left');txt(c,'Incoming specific',2105.5,807,12.5,'#333','left');txt(c,'Outgoing specific',2243.6,807,12.5,'#333','left');txt(c,'Incoming & Outgoing specific',2382.5,807,12.5,'#333','left');
  [['General',62,2379,65,'#9ac832'],['B-specific',281,2571,22,'#1f2e6b'],['T-specific',504,2642,0,'#6f3f9d'],['Macrophages-specific',735,2619,-13,'#c58ac0'],['Ednothelial-specific',835,2570,3,'#8b1a22'],['Fibroblasts-specific',943,2450,-45,'#11602f'],['Epithelial-specific',1011,2215,-85,'#3a6fc0']].forEach(g=>txt(c,g[0],g[1],g[2],19,g[4],'center',g[3]));
  txt(c,'Sender cell types',1625.5,1646,33.5,'#111');
  txt(c,'Scaled mean',1067,1664,15.5,'#222','left');txt(c,'expression',1067,1682,15.5,'#222','left');
  txt(c,'Scaled LFC',1183,1664,15.5,'#222','left');txt(c,'(ligand)',1183,1682,15.5,'#222','left');
  txt(c,'Scaled LFC',1302.5,1664,15.5,'#222','left');txt(c,'(receptor)',1302.5,1682,15.5,'#222','left');
  c.strokeStyle='#d9d9d9';c.lineWidth=2;c.strokeRect(1091,1708.5,32,29.5);c.strokeRect(1091,1738,32,30);
  c.fillStyle='#000';c.beginPath();c.arc(1107,1731,9,Math.PI,0);c.closePath();c.fill();c.beginPath();c.arc(1107,1761,13,Math.PI,0);c.closePath();c.fill();
  txt(c,'0.25',1130,1720,18,'#333','left');txt(c,'0.5',1130,1750,18,'#333','left');
  [[1183,1209,[[0,'#0b2c6b'],[.18,'#35498a'],[.6,'#94a3cd'],[1,'#e3ecf9']]],[1302,1328,[[0,'#a50f15'],[.18,'#c2362f'],[.6,'#e58a70'],[1,'#fdd5c8']]]].forEach(([x0,x1,st])=>{
    const g=c.createLinearGradient(0,1707,0,1837);st.forEach(s=>g.addColorStop(s[0],s[1]));c.fillStyle=g;c.fillRect(x0,1707,x1-x0,130);
    c.strokeStyle='#fff';c.lineWidth=1;c.beginPath();c.moveTo(x0,1740);c.lineTo(x0+5,1740);c.moveTo(x1-5,1740);c.lineTo(x1,1740);c.stroke();
    txt(c,'1.00',x1+20.5,1707,13,'#222');txt(c,'0.75',x1+20.5,1740,13,'#222');});
  [[2351,'#c8141e','ligand',2368],[2394,'#1553a5','target',2412],[2439,'#87cefa','receptor',2457],[2482,'#969696','transcriptional regulator',2498]].forEach(([y,col,s,ty])=>{
    c.beginPath();c.roundRect(1900.5,y,36,34,5);c.fillStyle=col;c.fill();c.strokeStyle='#333';c.lineWidth=1.2;c.stroke();txt(c,s,1946,ty,15,'#333','left');});
}};
new Chart(place([0,0,2550,2685]),{type:'scatter',data:{datasets:[]},options:{scales:{x:{display:false},y:{display:false}}},plugins:[overlay]});
</script>
</body></html>
